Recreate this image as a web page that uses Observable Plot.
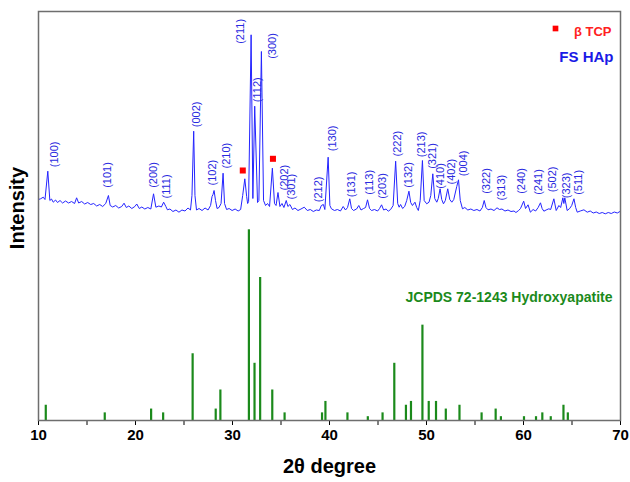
<!DOCTYPE html>
<html><head><meta charset="utf-8">
<script src="https://cdn.jsdelivr.net/npm/d3@7"></script>
<script src="https://cdn.jsdelivr.net/npm/@observablehq/plot@0.6"></script>
<style>
body{margin:0;background:#fff;}
#chart svg{font-family:"Liberation Sans",Arial,sans-serif;}
g[aria-label^="x-axis"] text{font-weight:bold;font-size:15px;fill:#000;}
</style>
</head><body><div id="chart"></div>
<script>
// Measured XRD pattern of FS HAp (2θ in degrees, intensity in a.u.)
const patternPoints = [[10.00,221],[10.21,221.7],[10.49,223.3],[10.67,221],[10.96,249.3],[11.17,220],[11.34,221.5],[11.52,218.3],[11.76,220.5],[11.96,218],[12.22,220],[12.48,217.5],[12.79,219.5],[13.10,217.5],[13.41,219],[13.72,217],[13.93,222.7],[14.14,217.5],[14.45,219],[14.76,216.5],[15.07,218],[15.38,216],[15.69,217],[16.00,214.5],[16.31,216],[16.62,214],[16.93,217],[17.21,225],[17.39,215],[17.65,213.5],[17.96,215],[18.27,212.5],[18.58,214],[18.82,217.3],[19.05,213],[19.31,214.5],[19.62,212],[19.93,214],[20.13,216.5],[20.39,212],[20.65,213.5],[20.96,211.5],[21.27,213],[21.58,211.5],[21.86,226.7],[22.10,213.3],[22.41,214.5],[22.67,213.5],[22.90,218.3],[23.13,214],[23.29,210.7],[23.55,211.5],[23.86,209],[24.17,210.5],[24.48,208.3],[24.79,210.5],[25.10,209.5],[25.41,212.5],[25.67,210.5],[25.82,225],[26.00,289.3],[26.13,225],[26.29,210.5],[26.55,212],[26.86,210],[27.17,212.5],[27.48,210.5],[27.74,215],[27.89,224],[27.99,226],[28.10,230],[28.25,220],[28.41,212],[28.61,213],[28.82,217],[29.03,247.3],[29.18,217],[29.39,211],[29.65,212],[29.96,210],[30.27,211.5],[30.58,209.5],[30.84,211],[31.05,225],[31.27,241.7],[31.46,224],[31.56,217],[31.66,219],[31.92,385.7],[32.10,222],[32.29,314.3],[32.58,218],[32.72,220],[32.98,369],[33.20,220],[33.41,215],[33.61,217],[33.82,214],[34.11,252.3],[34.33,217],[34.49,215],[34.69,228],[34.89,214],[35.10,217],[35.30,213],[35.54,220],[35.71,214],[35.92,216],[36.18,211],[36.44,212.5],[36.75,210],[37.06,211.5],[37.40,213.3],[37.71,210],[38.02,211],[38.33,209],[38.64,210.5],[38.95,210],[39.16,215],[39.37,216],[39.52,211],[39.86,263.3],[40.04,215],[40.20,211.7],[40.51,210],[40.82,211],[41.13,209.5],[41.41,214],[41.65,210.5],[41.86,213],[42.09,221.7],[42.27,212],[42.48,210],[42.79,211.5],[43.02,215],[43.25,210.5],[43.51,212],[43.72,213],[43.92,220.7],[44.13,212],[44.34,210],[44.64,211],[44.96,209.5],[45.16,212],[45.37,215.7],[45.58,210.5],[45.83,211.5],[46.06,209.3],[46.30,211],[46.56,215],[46.82,259.3],[47.03,217],[47.18,213.3],[47.33,216],[47.54,212],[47.75,214],[47.96,220],[48.19,229.3],[48.37,218],[48.55,215],[48.81,218.3],[48.99,213],[49.16,210],[49.35,220],[49.58,260],[49.76,220],[50.02,216.7],[50.26,218.3],[50.44,225],[50.65,246.7],[50.85,222],[51.06,218.3],[51.21,222],[51.40,231.7],[51.57,221],[51.75,216.7],[51.94,220],[52.19,231.7],[52.40,221],[52.61,218.3],[52.81,221],[53.12,234],[53.30,240.7],[53.48,220],[53.71,211.7],[53.95,213],[54.26,210.5],[54.57,211.5],[54.88,210],[55.20,211],[55.51,209.5],[55.76,213],[55.95,220],[56.13,213],[56.34,210.7],[56.65,211.5],[56.96,210],[57.27,212.7],[57.52,211],[57.78,211.5],[58.09,209.5],[58.40,210.5],[58.71,209],[59.02,209.5],[59.22,208],[59.50,210],[59.69,212],[60.02,219.3],[60.21,212],[60.47,215.7],[60.71,208.3],[60.99,211],[61.25,209.5],[61.51,213],[61.75,217.7],[61.92,212],[62.10,209.3],[62.33,210.5],[62.61,211.7],[62.80,211],[63.13,221.7],[63.37,210],[63.65,215],[63.83,213],[64.06,222.7],[64.16,217],[64.26,222.7],[64.50,210],[64.76,212],[64.97,215],[65.20,221.7],[65.38,213],[65.54,208.3],[65.85,209.5],[66.23,210.7],[66.57,208.3],[66.88,209.5],[67.19,207.5],[67.50,208.5],[67.81,207],[68.12,208],[68.43,206.7],[68.74,208],[69.05,207],[69.36,208.5],[69.67,207.5],[70.00,209.3]];

// JCPDS 72-1243 reference lines (2θ, relative intensity %)
const stickDeg = [10.75,16.83,21.61,22.85,25.89,28.27,28.75,31.69,32.27,32.85,34.10,35.37,39.23,39.58,41.85,43.95,45.47,46.68,47.88,48.40,49.58,50.23,50.98,51.99,53.40,55.68,57.13,57.67,60.05,61.29,61.94,62.81,64.12,64.57];
const stickRel = [8,4,6,4,35,6,16,100,30,75,16,4,4,10,4,2,4,30,8,10,50,10,10,6,8,4,6,2,2,2,4,2,8,4];
const stickScale = 1.907; // a.u. per % for display

// Miller index labels
const hklText = ["(100)","(101)","(200)","(111)","(002)","(102)","(210)","(211)","(112)","(300)","(202)","(301)","(212)","(130)","(131)","(113)","(203)","(222)","(132)","(213)","(321)","(410)","(402)","(004)","(322)","(313)","(240)","(241)","(502)","(323)","(511)"];
const hklDeg = [11.65,17.10,21.82,23.24,26.24,27.92,29.37,30.79,32.62,34.17,35.37,36.13,38.82,40.30,42.23,44.09,45.44,47.02,48.13,49.50,50.64,51.44,52.53,53.85,56.15,57.78,59.84,61.57,63.02,64.39,65.71];
const hklY = [253.3,232.7,232.7,222,293.3,235,252,376.7,318.3,361.7,230,221,218.3,269.3,223.3,225.7,221.7,264,232.7,263.3,251.7,231.7,236,244.3,226.7,220,226.7,225.7,228.3,222.3,225.7];

// β TCP markers
const tcpDeg = [31.06, 34.17];
const tcpY = [250, 261.7];

const xTicks = [10,15,20,25,30,35,40,45,50,55,60,65,70];

const pattern = patternPoints.map(([x, y]) => ({x, y}));
const sticks = stickDeg.map((x, i) => ({x, h: stickRel[i] * stickScale}));
const hkl = hklText.map((t, i) => ({t, x: hklDeg[i], y: hklY[i]}));
const tcp = tcpDeg.map((x, i) => ({x, y: tcpY[i]}));

const blue = "#2424ff";
const green = "#1b8a1b";
const font = "'Liberation Sans', Arial, sans-serif";

const chart = Plot.plot({
  width: 630,
  height: 482,
  marginTop: 11,
  marginBottom: 62,
  marginLeft: 38,
  marginRight: 10,
  style: {fontFamily: font, background: "#fff"},
  x: {domain: [10, 70], ticks: xTicks, tickFormat: d => d % 10 === 0 ? String(d) : "", tickSize: 5, label: null},
  y: {domain: [0, 409], axis: null},
  marks: [
    Plot.ruleX(sticks, {x: "x", y1: 0, y2: "h", stroke: green, strokeWidth: 2.2}),
    Plot.line(pattern, {x: "x", y: "y", stroke: blue, strokeWidth: 1}),
    Plot.text(hkl, {x: "x", y: "y", text: "t", rotate: -90, textAnchor: "start", fill: "#2a2ae0", fontSize: 11}),
    Plot.dot(tcp, {x: "x", y: "y", symbol: "square", r: 3.4, fill: "#ff0000", stroke: null}),
    Plot.dot([0], {frameAnchor: "top-right", dx: -65, dy: 17, symbol: "square", r: 3.2, fill: "#ff0000", stroke: null}),
    Plot.text(["β TCP"], {frameAnchor: "top-right", dx: -9, dy: 20, textAnchor: "end", lineAnchor: "middle", fill: "#ff2020", fontSize: 13, fontWeight: "bold"}),
    Plot.text(["FS HAp"], {frameAnchor: "top-right", dx: -7, dy: 46, textAnchor: "end", lineAnchor: "middle", fill: "#1a1ae6", fontSize: 15, fontWeight: "bold"}),
    Plot.text(["JCPDS 72-1243 Hydroxyapatite"], {frameAnchor: "top-right", dx: -8, dy: 286, textAnchor: "end", lineAnchor: "middle", fill: green, fontSize: 14, fontWeight: "bold"}),
    Plot.text(["2θ degree"], {frameAnchor: "bottom", dy: 46, textAnchor: "middle", lineAnchor: "middle", fill: "#000", fontSize: 20, fontWeight: "bold"}),
    Plot.text(["Intensity"], {frameAnchor: "left", dx: -21, dy: -8, rotate: -90, textAnchor: "middle", lineAnchor: "middle", fill: "#000", fontSize: 20, fontWeight: "bold"}),
    Plot.frame({stroke: "#6e6e6e", strokeWidth: 1.5})
  ]
});
document.getElementById("chart").appendChild(chart);
</script>
</body></html>
